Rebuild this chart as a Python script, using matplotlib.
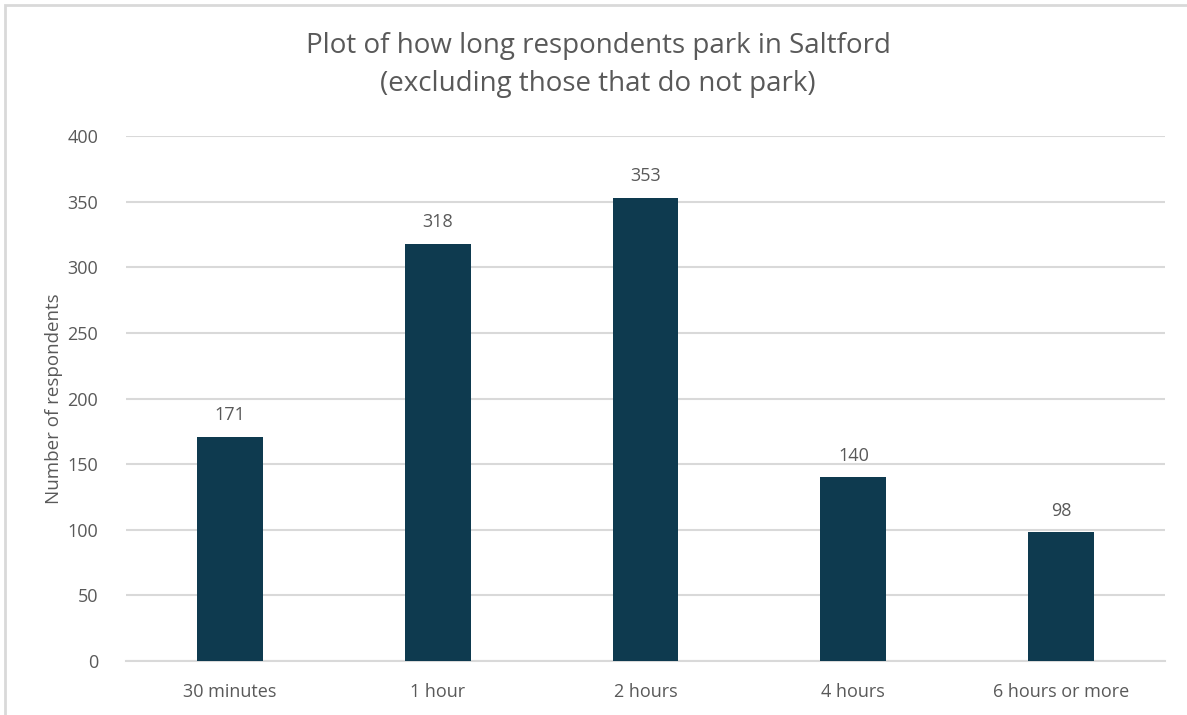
import matplotlib.pyplot as plt
from matplotlib.patches import Rectangle

categories = ["30 minutes", "1 hour", "2 hours", "4 hours", "6 hours or more"]
respondents = [171, 318, 353, 140, 98]
y_ticks = [0, 50, 100, 150, 200, 250, 300, 350, 400]

BAR_COLOR = "#0E3A4F"
TEXT_COLOR = "#595959"
GRID_COLOR = "#D9D9D9"

plt.rcParams['font.family'] = ['Open Sans', 'DejaVu Sans']

fig = plt.figure(figsize=(11.87, 7.15), dpi=100)
ax = fig.add_axes([0.1062, 0.0755, 0.8753, 0.7343])

# outer chart border
fig.patches.append(Rectangle((5 / 1187, -0.01), 1.02, 1 - 5 / 715 + 0.01,
                             transform=fig.transFigure, fill=False,
                             edgecolor="#D9D9D9", linewidth=2))

x = range(len(categories))
bars = ax.bar(x, respondents, width=0.317, color=BAR_COLOR, zorder=3)

for rect, val in zip(bars, respondents):
    ax.annotate(str(val), (rect.get_x() + rect.get_width() / 2, val),
                xytext=(0, 9), textcoords="offset points",
                ha="center", va="bottom", fontsize=13, color=TEXT_COLOR)

ax.set_xlim(-0.5, len(categories) - 0.5)
ax.set_ylim(0, 400)
ax.set_yticks(y_ticks)
ax.set_xticks(list(x))
ax.set_xticklabels(categories)
ax.yaxis.grid(True, color=GRID_COLOR, linewidth=1.5, zorder=0)
ax.set_axisbelow(True)
for side in ["top", "right", "left"]:
    ax.spines[side].set_visible(False)
ax.spines["bottom"].set_color(GRID_COLOR)
ax.spines["bottom"].set_linewidth(1.5)
ax.tick_params(axis="both", length=0, labelsize=13, labelcolor=TEXT_COLOR)
ax.tick_params(axis="y", pad=20)
ax.tick_params(axis="x", pad=16)

ax.set_ylabel("Number of respondents", fontsize=13.5, color=TEXT_COLOR)
# place the y label about 52 px from the left edge, like the original
ax.yaxis.set_label_coords((63 - 126) / (0.8753 * 1187), 0.5)

fig.text(0.504, 0.909, "Plot of how long respondents park in Saltford\n(excluding those that do not park)",
         ha="center", va="center", fontsize=20, color=TEXT_COLOR, linespacing=1.45)

fig.savefig("out.png", dpi=100)
